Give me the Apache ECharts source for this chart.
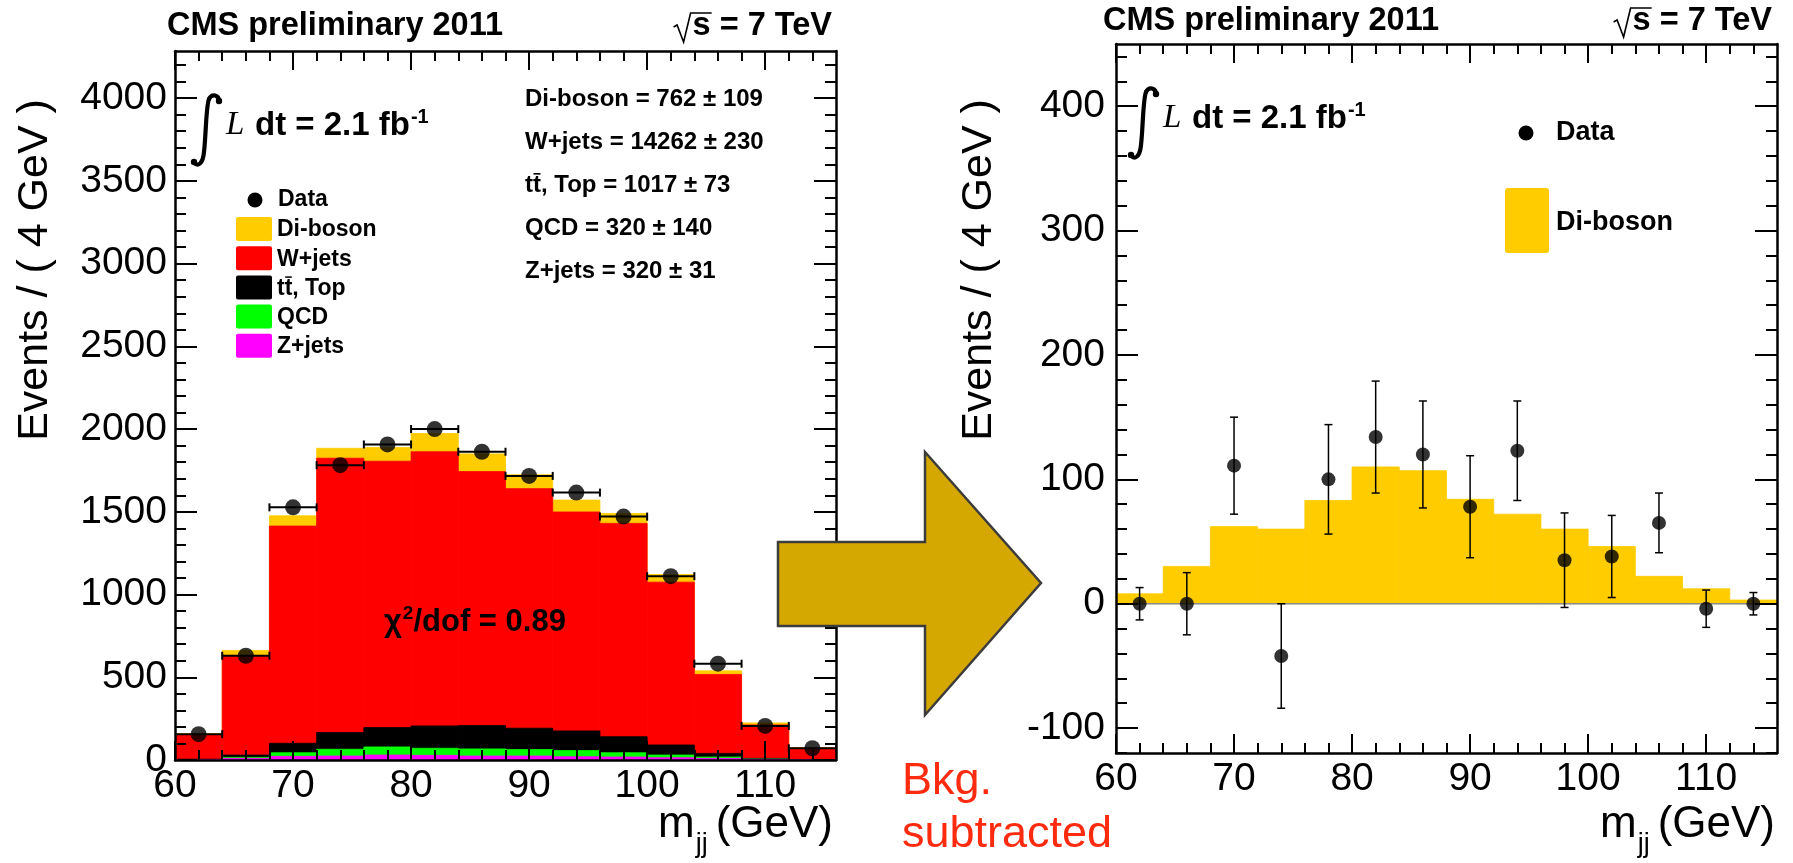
<!DOCTYPE html>
<html>
<head>
<meta charset="utf-8">
<script src="https://cdn.jsdelivr.net/npm/echarts@6.0.0/dist/echarts.min.js"></script>
<style>
  html, body { margin: 0; padding: 0; background: #fff; }
  #chart { width: 1793px; height: 863px; }
</style>
</head>
<body>
<div id="chart"></div>
<script>
// ---- Dijet invariant mass, 4 GeV bins (bin centres in GeV) ----
const massBins = [62, 66, 70, 74, 78, 82, 86, 90, 94, 98, 102, 106, 110, 114];
const binHalfWidth = 2;

// Stacked background + signal expectation, events per bin
const zJets   = [2, 10, 22, 24, 30, 28, 24, 24, 20, 18, 14, 10, 4, 1];
const qcd     = [1, 6, 22, 41, 49, 43, 43, 39, 37, 26, 16, 8, 2, 1];
const topBkg  = [2, 14, 57, 101, 117, 135, 141, 129, 119, 97, 61, 22, 4, 1];
const wJets   = [147, 602, 1313, 1658, 1610, 1657, 1535, 1448, 1323, 1289, 984, 477, 202, 68];
const diBoson = [8, 30, 62, 60, 83, 110, 107, 84, 72, 60, 46, 22, 12, 3];

// Observed events per bin
const dataEvents = [156, 630, 1527, 1782, 1907, 2000, 1863, 1717, 1616, 1471, 1111, 582, 206, 71];

// Background-subtracted data and its uncertainty
const subtracted    = [0, 0, 111, -42, 100, 134, 120, 78, 123, 35, 38, 65, -4, 0];
const subtractedErr = [13, 25, 39, 42, 44, 45, 43, 41, 40, 38, 33, 24, 15, 9];

// Fitted yields
const yieldNames  = ['Di-boson', 'W+jets', 'tt, Top', 'QCD', 'Z+jets'];
const yieldValues = [762, 14262, 1017, 320, 320];
const yieldErrors = [109, 230, 73, 140, 31];
const chi2PerDof = 0.89;
const lumiText = '2.1';
const energyText = '7';

// Axis ticks
const xMajor = [60, 70, 80, 90, 100, 110];
const xMinor = [62, 64, 66, 68, 72, 74, 76, 78, 82, 84, 86, 88, 92, 94, 96, 98, 102, 104, 106, 108, 112, 114];
const yLeftMajor = [0, 500, 1000, 1500, 2000, 2500, 3000, 3500, 4000];
const yRightMajor = [-100, 0, 100, 200, 300, 400];

function steps(from, to, step) { const out = []; for (let v = from; v <= to + 1e-9; v += step) out.push(v); return out; }
const yLeftMinor = steps(0, 4200, 100);
const yRightMinor = steps(-120, 440, 20);

const X_MIN = 60, X_MAX = 116;
const YL_MIN = 0, YL_MAX = 4285;
const YR_MIN = -120, YR_MAX = 450;

const COL = { diboson: '#ffcc00', wjets: '#ff0000', top: '#000000', qcd: '#00ff00', zjets: '#ff00ff' };
const SANS = '"Liberation Sans", Arial, Helvetica, sans-serif';
const SERIF = '"Liberation Serif", "Times New Roman", serif';

// ---- text helpers ----
const mctx = document.createElement('canvas').getContext('2d');
function tw(text, size, weight, family, style) {
  mctx.font = (style || 'normal') + ' ' + (weight || 'normal') + ' ' + size + 'px ' + (family || SANS);
  return mctx.measureText(text).width;
}
// text placed by its alphabetic baseline
function txt(text, x, baseline, size, o) {
  o = Object.assign({ weight: 'normal', family: SANS, style: 'normal', align: 'left', color: '#000' }, o || {});
  return {
    type: 'text', z: 50, x: x, y: baseline - 0.3465 * size,
    style: {
      text: text, fontSize: size, fontWeight: o.weight, fontFamily: o.family, fontStyle: o.style,
      fill: o.color, align: o.align, textAlign: o.align, verticalAlign: 'middle', textVerticalAlign: 'middle'
    }
  };
}
function line(x1, y1, x2, y2, w) {
  return { type: 'line', z: 50, shape: { x1, y1, x2, y2 }, style: { stroke: '#000', lineWidth: w || 1.5 } };
}
// bar over the second "t" of "tt"
function ttBar(x, baseline, size) {
  const w = tw('t', size, 'bold');
  const y = baseline - 0.84 * size;
  return line(x + w + 0.5, y, x + 2 * w - 0.5, y, Math.max(1.4, size / 15));
}
function sqrtSLabel(xRight, baseline, size) {
  const rest = 's = ' + energyText + ' TeV';
  const sx = xRight - tw(rest, size, 'bold');
  const ws = tw('s', size, 'bold');
  return [
    { type: 'polyline', z: 50, shape: { points: [[sx - 19, baseline - 10], [sx - 15.5, baseline - 12], [sx - 9, baseline + 5], [sx - 2, baseline - 24], [sx + ws + 1, baseline - 24]] },
      style: { stroke: '#000', lineWidth: 1.6, fill: null } },
    txt(rest, sx, baseline, size, { weight: 'bold' })
  ];
}
function bez(x0, y0, p) {
  return { type: 'bezierCurve', z: 50, x: x0, y: y0,
    shape: { x1: p[0], y1: p[1], cpx1: p[2], cpy1: p[3], cpx2: p[4], cpy2: p[5], x2: p[6], y2: p[7] },
    style: { stroke: '#000', lineWidth: 4.2, fill: null, lineCap: 'round' } };
}
function lumiLabel(x0, top, baseline) {
  // integral sign built from three curve pieces
  const els = [
    bez(x0, top, [26, 6, 26, 0, 19, -2, 16, 4]),
    bez(x0, top, [16, 4, 13, 11, 13, 40, 11, 57]),
    bez(x0, top, [11, 57, 10, 68, 5, 73, 1, 67]),
    { type: 'circle', z: 50, shape: { cx: x0 + 26, cy: top + 6, r: 3.2 }, style: { fill: '#000' } },
    { type: 'circle', z: 50, shape: { cx: x0 + 1, cy: top + 67, r: 3.2 }, style: { fill: '#000' } }
  ];
  const lx = x0 + 33;
  els.push(txt('L', lx, baseline, 33, { family: SERIF, style: 'italic' }));
  const dx = lx + 29;
  const main = 'dt = ' + lumiText + ' fb';
  els.push(txt(main, dx, baseline, 33, { weight: 'bold' }));
  els.push(txt('-1', dx + tw(main, 33, 'bold') + 1, baseline - 13, 20, { weight: 'bold' }));
  return els;
}
function massTitle(xRight, baseline) {
  const big = 44, small = 27;
  const tail = '(GeV)';
  const wTail = tw(tail, big);
  const wjj = tw('jj', small);
  const jjX = xRight - wTail - 8 - wjj;
  return [
    txt(tail, xRight, baseline, big, { align: 'right' }),
    txt('jj', jjX, baseline + 14, small),
    txt('m', jjX - 1, baseline, big, { align: 'right' })
  ];
}
function eventsTitle(cx, cy) {
  return { type: 'text', z: 50, x: cx, y: cy, rotation: Math.PI / 2,
    style: { text: 'Events / ( 4 GeV )', fontSize: 43, fontFamily: SANS, fill: '#000',
      align: 'center', textAlign: 'center', verticalAlign: 'middle', textVerticalAlign: 'middle' } };
}

// ---- axes: major/minor ticks on all four sides, ticks pointing inwards ----
function axisSet(dim, grid, min, max, major, minor, labelOpts) {
  const base = { type: 'value', gridIndex: grid, min: min, max: max, z: 10,
    splitLine: { show: false }, splitArea: { show: false }, axisPointer: { show: false } };
  const pos = dim === 'x' ? ['bottom', 'top'] : ['left', 'right'];
  const majLen = dim === 'x' ? 19 : 22, minLen = dim === 'x' ? 10 : 11;
  const tickStyle = { color: '#000', width: 2 };
  const frame = { show: true, onZero: false, lineStyle: { color: '#000', width: 2.5 } };
  const noLine = { show: false, onZero: false };
  return [
    Object.assign({}, base, { position: pos[0], axisLine: frame,
      axisTick: { show: true, inside: true, length: majLen, customValues: major, lineStyle: tickStyle },
      axisLabel: Object.assign({ show: true, customValues: major, formatter: v => String(v),
        fontSize: 39, fontFamily: SANS, color: '#000', lineHeight: 39 }, labelOpts) }),
    Object.assign({}, base, { position: pos[0], axisLine: noLine,
      axisTick: { show: true, inside: true, length: minLen, customValues: minor, lineStyle: tickStyle },
      axisLabel: { show: false } }),
    Object.assign({}, base, { position: pos[1], axisLine: frame,
      axisTick: { show: true, inside: true, length: majLen, customValues: major, lineStyle: tickStyle },
      axisLabel: { show: false } }),
    Object.assign({}, base, { position: pos[1], axisLine: noLine,
      axisTick: { show: true, inside: true, length: minLen, customValues: minor, lineStyle: tickStyle },
      axisLabel: { show: false } })
  ];
}

// ---- series helpers ----
function histSeries(name, tops, color, axisIdx, z) {
  return {
    type: 'custom', name: name, xAxisIndex: axisIdx, yAxisIndex: axisIdx, z: z || 2, clip: true,
    encode: { x: [0, 1], y: 2 },
    data: massBins.map((c, i) => [c - binHalfWidth, c + binHalfWidth, tops[i]]),
    renderItem: function (params, api) {
      const a = api.coord([api.value(0), api.value(2)]);
      const b = api.coord([api.value(1), 0]);
      return { type: 'rect', shape: { x: a[0], y: a[1], width: b[0] - a[0], height: b[1] - a[1] },
        style: { fill: color, stroke: color, lineWidth: 0.8 } };
    }
  };
}
function cumulate(...layers) {
  return massBins.map((_, i) => layers.reduce((s, l) => s + l[i], 0));
}
const cumZ = cumulate(zJets);
const cumQCD = cumulate(zJets, qcd);
const cumTop = cumulate(zJets, qcd, topBkg);
const cumW = cumulate(zJets, qcd, topBkg, wJets);
const cumAll = cumulate(zJets, qcd, topBkg, wJets, diBoson);

const series = [
  // left: stacked expectation, drawn back to front
  histSeries('Di-boson', cumAll, COL.diboson, 0),
  histSeries('W+jets', cumW, COL.wjets, 0),
  histSeries('tt, Top', cumTop, COL.top, 0),
  histSeries('QCD', cumQCD, COL.qcd, 0),
  histSeries('Z+jets', cumZ, COL.zjets, 0),
  // left: data with bin-width error bars
  {
    type: 'custom', name: 'Data bins', xAxisIndex: 0, yAxisIndex: 0, z: 4, clip: true,
    data: massBins.map((c, i) => [c, dataEvents[i]]),
    renderItem: function (params, api) {
      const c = api.value(0), v = api.value(1);
      const a = api.coord([c - binHalfWidth, v]), b = api.coord([c + binHalfWidth, v]);
      const st = { stroke: '#000', lineWidth: 2 };
      return { type: 'group', children: [
        { type: 'line', shape: { x1: a[0], y1: a[1], x2: b[0], y2: b[1] }, style: st },
        { type: 'line', shape: { x1: a[0], y1: a[1] - 4, x2: a[0], y2: a[1] + 4 }, style: st },
        { type: 'line', shape: { x1: b[0], y1: b[1] - 4, x2: b[0], y2: b[1] + 4 }, style: st }
      ] };
    }
  },
  {
    type: 'scatter', name: 'Data', xAxisIndex: 0, yAxisIndex: 0, z: 5,
    symbol: 'circle', symbolSize: 16, itemStyle: { color: '#000' },
    data: massBins.map((c, i) => [c, dataEvents[i]])
  },
  // right: di-boson expectation
  histSeries('Di-boson (sub)', diBoson, COL.diboson, 4),
  {
    type: 'custom', name: 'zero', xAxisIndex: 4, yAxisIndex: 4, z: 3,
    data: [[X_MIN, X_MAX]],
    renderItem: function (params, api) {
      const a = api.coord([api.value(0), 0]), b = api.coord([api.value(1), 0]);
      return { type: 'line', shape: { x1: a[0], y1: a[1], x2: b[0], y2: b[1] }, style: { stroke: '#8c8c8c', lineWidth: 1.5 } };
    }
  },
  {
    type: 'custom', name: 'Subtracted errors', xAxisIndex: 4, yAxisIndex: 4, z: 4, clip: true,
    data: massBins.map((c, i) => [c, subtracted[i], subtractedErr[i]]),
    renderItem: function (params, api) {
      const c = api.value(0), v = api.value(1), e = api.value(2);
      const lo = api.coord([c, v - e]), hi = api.coord([c, v + e]);
      const st = { stroke: '#000', lineWidth: 1.5 };
      return { type: 'group', children: [
        { type: 'line', shape: { x1: lo[0], y1: lo[1], x2: hi[0], y2: hi[1] }, style: st },
        { type: 'line', shape: { x1: lo[0] - 4, y1: lo[1], x2: lo[0] + 4, y2: lo[1] }, style: st },
        { type: 'line', shape: { x1: hi[0] - 4, y1: hi[1], x2: hi[0] + 4, y2: hi[1] }, style: st }
      ] };
    }
  },
  {
    type: 'scatter', name: 'Data (sub)', xAxisIndex: 4, yAxisIndex: 4, z: 5,
    symbol: 'circle', symbolSize: 14, itemStyle: { color: '#000' },
    data: massBins.map((c, i) => [c, subtracted[i]])
  }
];

// ---- annotations ----
const HEAD = 32.5;
const graphics = [];
// left panel header
graphics.push(txt('CMS preliminary 2011', 167, 37, HEAD, { weight: 'bold' }));
graphics.push(...sqrtSLabel(832, 37, HEAD));
graphics.push(...lumiLabel(193, 95, 137));
// fitted yields
yieldNames.forEach((n, i) => {
  const b = 108 + i * 43;
  graphics.push(txt(n + ' = ' + yieldValues[i] + ' \u00b1 ' + yieldErrors[i], 525, b, 24, { weight: 'bold' }));
  if (n.startsWith('tt')) graphics.push(ttBar(525, b, 24));
});
// left legend
graphics.push({ type: 'circle', z: 50, shape: { cx: 255, cy: 200, r: 7.5 }, style: { fill: '#000' } });
graphics.push(txt('Data', 278, 208, 23, { weight: 'bold' }));
const legendColors = [COL.diboson, COL.wjets, COL.top, COL.qcd, COL.zjets];
yieldNames.forEach((n, i) => {
  const top = 217 + i * 29.2;
  graphics.push({ type: 'rect', z: 50, shape: { x: 236, y: top, width: 36, height: 24, r: 2 }, style: { fill: legendColors[i] } });
  graphics.push(txt(n, 277, top + 21, 23, { weight: 'bold' }));
  if (n.startsWith('tt')) graphics.push(ttBar(277, top + 21, 23));
});
// fit quality
(function () {
  const x = 384, b = 633;
  graphics.push(txt('\u03c7', x, b, 31, { weight: 'bold' }));
  const wc = tw('\u03c7', 31, 'bold');
  graphics.push(txt('2', x + wc + 1, b - 13, 19, { weight: 'bold' }));
  graphics.push(txt('/dof = ' + chi2PerDof.toFixed(2), x + wc + 1 + tw('2', 19, 'bold'), b, 31, { weight: 'bold' }));
})();
graphics.push(eventsTitle(35, 270));
graphics.push(...massTitle(833, 840));

// right panel header
graphics.push(txt('CMS preliminary 2011', 1103, 32, HEAD, { weight: 'bold' }));
graphics.push(...sqrtSLabel(1772, 32, HEAD));
graphics.push(...lumiLabel(1130, 88, 130));
graphics.push({ type: 'circle', z: 50, shape: { cx: 1526, cy: 133, r: 7.5 }, style: { fill: '#000' } });
graphics.push(txt('Data', 1556, 142, 27, { weight: 'bold' }));
graphics.push({ type: 'rect', z: 50, shape: { x: 1505, y: 188, width: 44, height: 65, r: 3 }, style: { fill: COL.diboson } });
graphics.push(txt('Di-boson', 1556, 232, 27, { weight: 'bold' }));
graphics.push(eventsTitle(979, 270));
graphics.push(...massTitle(1775, 840));

// arrow between the panels
graphics.push({ type: 'polygon', z: 100,
  shape: { points: [[778, 542], [925, 542], [925, 452], [1041, 583], [925, 715], [925, 626], [778, 626]] },
  style: { fill: '#d4a800', stroke: '#3c3c3c', lineWidth: 2.5 } });
graphics.push(txt('Bkg.', 902, 797, 45, { color: '#ff2b0f' }));
graphics.push(txt('subtracted', 902, 850, 45, { color: '#ff2b0f' }));

const option = {
  animation: false,
  backgroundColor: '#fff',
  grid: [
    { left: 175, top: 51, width: 661, height: 709, outerBoundsMode: 'none' },
    { left: 1116, top: 44, width: 661, height: 709, outerBoundsMode: 'none' }
  ],
  xAxis: [
    ...axisSet('x', 0, X_MIN, X_MAX, xMajor, xMinor, { margin: 7 }),
    ...axisSet('x', 1, X_MIN, X_MAX, xMajor, xMinor, { margin: 7 })
  ],
  yAxis: [
    ...axisSet('y', 0, YL_MIN, YL_MAX, yLeftMajor, yLeftMinor, { margin: 8 }),
    ...axisSet('y', 1, YR_MIN, YR_MAX, yRightMajor, yRightMinor, { margin: 11 })
  ],
  series: series,
  graphic: graphics
};

const chart = echarts.init(document.getElementById('chart'), null, { renderer: 'canvas' });
chart.setOption(option);
</script>
</body>
</html>
